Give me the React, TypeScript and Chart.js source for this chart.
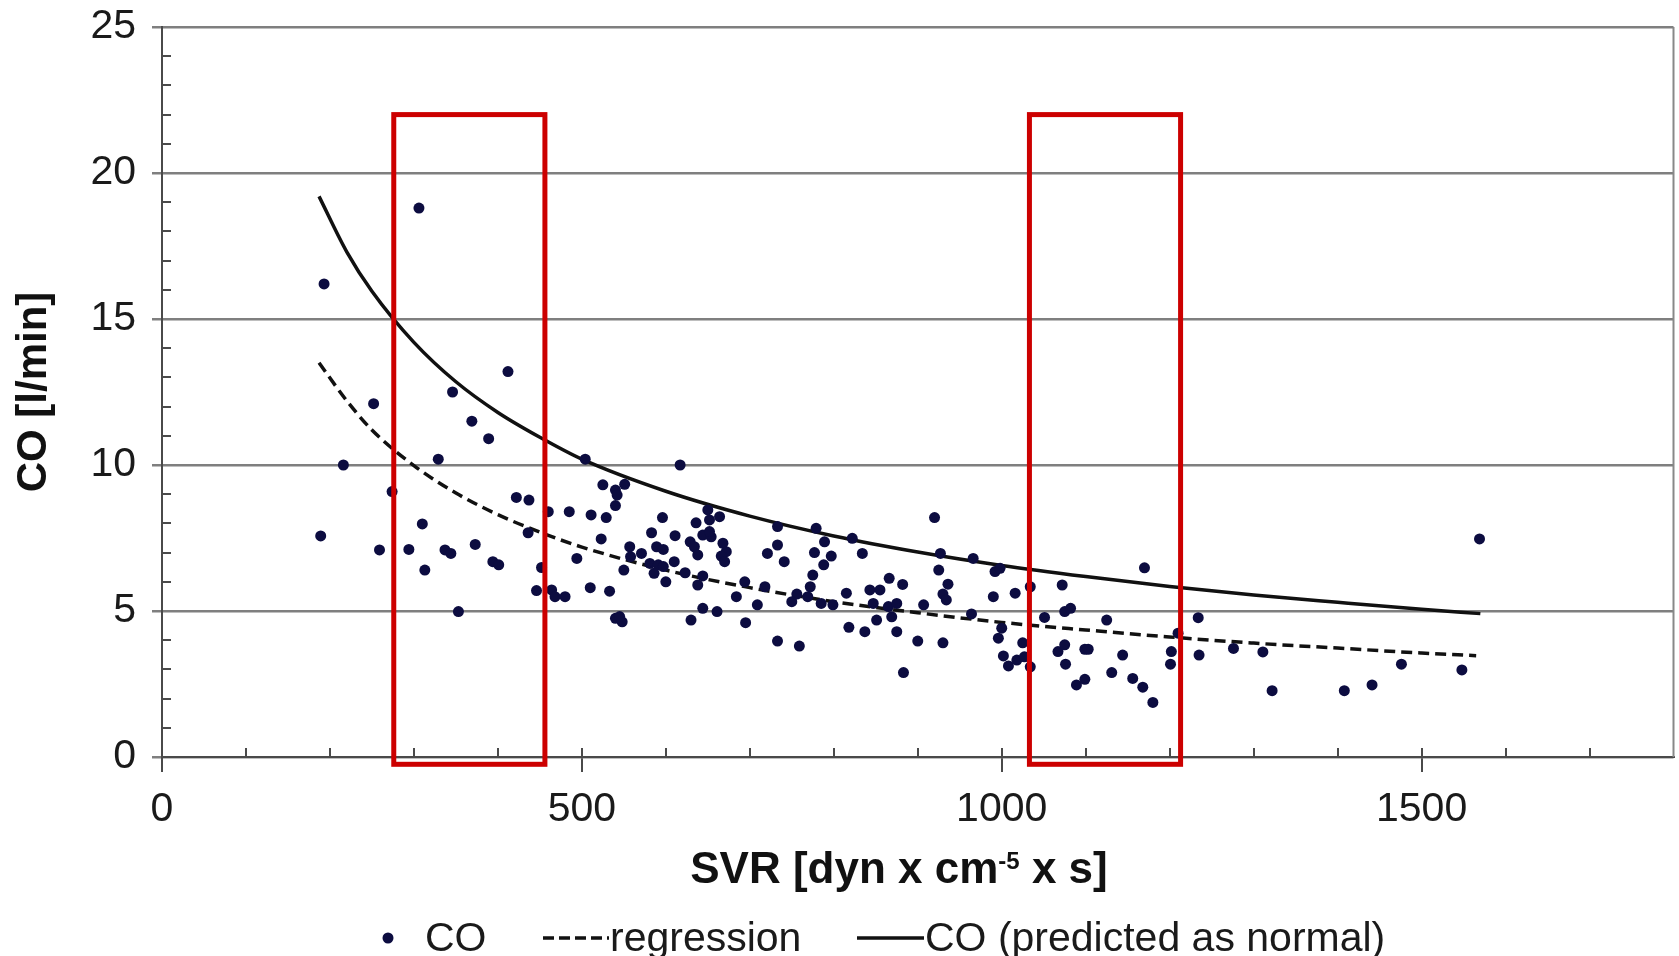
import React, { useEffect, useRef } from "react";
import { Chart, registerables } from "chart.js";

Chart.register(...registerables);

const FONT = "'Liberation Sans', Arial, Helvetica, sans-serif";

// Measured CO points: SVR (x) and CO (y)
const svrValues = [
  306, 193, 412, 346, 252, 369, 389, 329, 216, 274,
  422, 437, 310, 436, 189, 259, 294, 337, 344, 373,
  313, 394, 401, 446, 353, 452, 504, 617, 525, 540,
  542, 551, 540, 460, 485, 511, 529, 523, 596, 583,
  611, 636, 652, 664, 650, 644, 654, 652, 629, 634,
  638, 668, 672, 666, 670, 557, 558, 571, 589, 597,
  494, 581, 591, 586, 597, 610, 550, 623, 600, 644,
  638, 464, 468, 480, 510, 533, 540, 548, 545, 630,
  644, 661, 684, 694, 718, 709, 721, 695, 733, 733,
  733, 741, 779, 789, 777, 797, 788, 822, 834, 775,
  772, 756, 750, 769, 785, 799, 815, 843, 855, 847,
  866, 882, 865, 875, 869, 851, 818, 837, 875, 759,
  900, 930, 883, 907, 920, 927, 925, 936, 930, 934,
  966, 964, 992, 998, 990, 1016, 1000, 996, 1002, 1008,
  1034, 1072, 1170, 1075, 1082, 1051, 1125, 1025, 1018, 1027,
  1034, 1067, 1075, 1076, 1099, 1103, 1089, 1099, 1144, 1131,
  1156, 1168, 1180, 1210, 1202, 1201, 1234, 1235, 1276, 1311,
  1322, 1408, 1441, 1476, 1548, 1569,
];
const coValues = [
  18.8, 16.2, 13.2, 12.5, 12.1, 11.5, 10.9, 10.2, 10.0, 9.09,
  8.89, 8.8, 7.98, 7.68, 7.57, 7.09, 7.11, 7.09, 6.97, 7.28,
  6.4, 6.69, 6.58, 5.7, 4.98, 6.49, 10.2, 10.0, 9.32, 9.14,
  8.97, 9.34, 8.61, 8.4, 8.4, 8.29, 8.2, 7.47, 8.2, 7.68,
  7.58, 8.02, 8.12, 8.23, 8.46, 7.6, 7.54, 7.72, 7.37, 7.2,
  6.92, 7.32, 7.03, 6.88, 6.69, 7.2, 6.86, 6.97, 7.2, 7.11,
  6.8, 6.63, 6.58, 6.29, 6.52, 6.69, 6.4, 6.31, 6.0, 6.2,
  5.89, 5.72, 5.49, 5.49, 5.8, 5.68, 4.75, 4.63, 4.81, 4.69,
  5.09, 4.98, 5.49, 6.0, 5.83, 5.21, 6.97, 4.6, 3.97, 7.89,
  7.26, 6.69, 7.83, 7.37, 7.0, 6.88, 6.58, 7.49, 6.97, 6.23,
  5.83, 5.58, 5.32, 5.49, 5.26, 5.21, 5.61, 5.72, 5.72, 5.26,
  6.12, 5.91, 5.15, 5.26, 4.8, 4.69, 4.44, 4.29, 4.29, 3.8,
  3.97, 3.91, 2.89, 5.21, 8.2, 6.97, 6.4, 5.92, 5.58, 5.38,
  6.8, 4.9, 6.35, 6.46, 5.49, 5.61, 4.41, 4.07, 3.46, 3.12,
  5.83, 5.89, 6.48, 4.98, 5.09, 4.78, 4.69, 3.91, 3.32, 3.43,
  3.09, 3.61, 3.84, 3.18, 3.69, 3.69, 2.47, 2.66, 3.49, 2.89,
  2.69, 2.39, 1.87, 4.24, 3.61, 3.18, 4.77, 3.49, 3.72, 3.6,
  2.27, 2.27, 2.47, 3.18, 2.98, 7.47,
];

// Curve "CO (predicted as normal)"
const predictedSVR = [187, 220, 250, 300, 350, 400, 450, 500, 600, 700, 800, 900, 1000, 1100, 1200, 1300, 1400, 1500, 1570];
const predictedCO = [19.2, 17.3, 15.95, 14.2, 12.85, 11.8, 10.95, 10.2, 9.1, 8.25, 7.57, 7.02, 6.56, 6.18, 5.84, 5.55, 5.3, 5.06, 4.91];

// Regression curve
const regressionSVR = [187, 220, 250, 300, 350, 400, 450, 500, 600, 700, 800, 900, 1000, 1100, 1200, 1300, 1400, 1500, 1565];
const regressionCO = [13.5, 12.2, 11.2, 9.98, 9.04, 8.3, 7.7, 7.19, 6.4, 5.8, 5.32, 4.94, 4.61, 4.35, 4.11, 3.9, 3.73, 3.56, 3.47];

// Axis ticks
const xMajorTicks = [0, 500, 1000, 1500];
const xInnerTicks = [100, 200, 300, 400, 500, 600, 700, 800, 900, 1000, 1100, 1200, 1300, 1400, 1500, 1600, 1700];
const yMajorTicks = [0, 5, 10, 15, 20, 25];
const yInnerTicks = [1, 2, 3, 4, 6, 7, 8, 9, 11, 12, 13, 14, 16, 17, 18, 19, 21, 22, 23, 24];

// Highlight boxes (SVR ranges and CO range)
const boxSVRStart = [276, 1033];
const boxSVREnd = [456, 1213];
const boxCORange = [-0.25, 22];

const xTitleMain = "SVR [dyn x cm";
const xTitleSup = "-5";
const xTitleEnd = " x s]";

const decorPlugin = {
  id: "decor",
  beforeDatasetsDraw(chart: any) {
    const { ctx, scales, chartArea: a } = chart;
    const x = scales.x;
    const y = scales.y;
    ctx.save();
    ctx.strokeStyle = "#4a4a4a";
    ctx.lineWidth = 2;
    ctx.beginPath();
    xInnerTicks.forEach((v) => {
      const px = Math.round(x.getPixelForValue(v));
      ctx.moveTo(px, a.bottom);
      ctx.lineTo(px, a.bottom - 9);
    });
    yInnerTicks.forEach((v) => {
      const py = Math.round(y.getPixelForValue(v));
      ctx.moveTo(a.left, py);
      ctx.lineTo(a.left + 9, py);
    });
    ctx.stroke();
    ctx.strokeStyle = "#888888";
    ctx.beginPath();
    ctx.moveTo(a.right, a.top);
    ctx.lineTo(a.right, a.bottom);
    ctx.stroke();
    ctx.restore();
  },
  afterDatasetsDraw(chart: any) {
    const { ctx, scales } = chart;
    const x = scales.x;
    const y = scales.y;
    ctx.save();
    ctx.strokeStyle = "#cc0000";
    ctx.lineWidth = 5;
    boxSVRStart.forEach((s, i) => {
      const x0 = x.getPixelForValue(s);
      const x1 = x.getPixelForValue(boxSVREnd[i]);
      const y0 = y.getPixelForValue(boxCORange[1]);
      const y1 = y.getPixelForValue(boxCORange[0]);
      ctx.strokeRect(x0, y0, x1 - x0, y1 - y0);
    });
    ctx.restore();
  },
  afterDraw(chart: any) {
    const { ctx } = chart;
    ctx.save();
    // X axis title with superscript
    ctx.fillStyle = "#111";
    ctx.textBaseline = "alphabetic";
    ctx.textAlign = "left";
    const mainFont = `bold 44px ${FONT}`;
    const supFont = `bold 24px ${FONT}`;
    ctx.font = mainFont;
    const w1 = ctx.measureText(xTitleMain).width;
    const w3 = ctx.measureText(xTitleEnd).width;
    ctx.font = supFont;
    const w2 = ctx.measureText(xTitleSup).width;
    const total = w1 + w2 + w3;
    let sx = 899 - total / 2;
    const base = 883;
    ctx.font = mainFont;
    ctx.fillText(xTitleMain, sx, base);
    sx += w1;
    ctx.font = supFont;
    ctx.fillText(xTitleSup, sx, base - 14);
    sx += w2;
    ctx.font = mainFont;
    ctx.fillText(xTitleEnd, sx, base);

    // Legend
    const ds = chart.data.datasets;
    const ly = 938;
    const lb = 951;
    ctx.font = `41px ${FONT}`;
    // CO dot
    ctx.beginPath();
    ctx.fillStyle = "#0c0c40";
    ctx.arc(388, ly, 5.5, 0, Math.PI * 2);
    ctx.fill();
    ctx.fillStyle = "#1a1a1a";
    ctx.fillText(ds[0].label, 425, lb);
    // regression dashed
    ctx.strokeStyle = "#111";
    ctx.lineWidth = 3.5;
    ctx.setLineDash([11, 5]);
    ctx.beginPath();
    ctx.moveTo(543, ly);
    ctx.lineTo(609, ly);
    ctx.stroke();
    ctx.setLineDash([]);
    ctx.fillText(ds[1].label, 610, lb);
    // predicted solid
    ctx.beginPath();
    ctx.moveTo(857, ly);
    ctx.lineTo(924, ly);
    ctx.stroke();
    ctx.fillText(ds[2].label, 925, lb);
    ctx.restore();
  },
};

export default function App() {
  const canvasRef = useRef<HTMLCanvasElement | null>(null);

  useEffect(() => {
    document.body.style.margin = "0";
    document.body.style.overflow = "hidden";
    const canvas = canvasRef.current;
    if (!canvas) return;
    const chart = new Chart(canvas, {
      type: "scatter",
      data: {
        datasets: [
          {
            label: "CO",
            data: svrValues.map((v, i) => ({ x: v, y: coValues[i] })),
            pointRadius: 5.5,
            pointHoverRadius: 5.5,
            pointBackgroundColor: "#0c0c40",
            pointBorderWidth: 0,
            showLine: false,
            order: 0,
          },
          {
            label: "regression",
            type: "line",
            data: regressionSVR.map((v, i) => ({ x: v, y: regressionCO[i] })),
            borderColor: "#111",
            borderWidth: 3.5,
            borderDash: [11, 6],
            pointRadius: 0,
            fill: false,
            cubicInterpolationMode: "monotone",
            order: 1,
          },
          {
            label: "CO (predicted as normal)",
            type: "line",
            data: predictedSVR.map((v, i) => ({ x: v, y: predictedCO[i] })),
            borderColor: "#111",
            borderWidth: 3.5,
            pointRadius: 0,
            fill: false,
            cubicInterpolationMode: "monotone",
            order: 2,
          },
        ] as any,
      },
      options: {
        responsive: false,
        animation: false,
        devicePixelRatio: 1,
        layout: { padding: { top: 27, right: 3, bottom: 0, left: 0 } },
        plugins: {
          legend: { display: false },
          tooltip: { enabled: false },
          title: { display: false },
        },
        scales: {
          x: {
            type: "linear",
            min: 0,
            max: 1800,
            afterBuildTicks: (s: any) => {
              s.ticks = xMajorTicks.map((v) => ({ value: v }));
            },
            afterFit: (s: any) => {
              s.height = 199;
              s.paddingLeft = 0;
              s.paddingRight = 0;
            },
            ticks: {
              font: { family: FONT, size: 41 },
              color: "#1a1a1a",
              padding: 13,
              maxRotation: 0,
              autoSkip: false,
              callback: (v: any) => String(v),
            },
            grid: {
              drawOnChartArea: false,
              drawTicks: true,
              tickLength: 15,
              color: "#4a4a4a",
              lineWidth: 2,
            },
            border: { display: true, color: "#4a4a4a", width: 2 },
          },
          y: {
            min: 0,
            max: 25,
            afterBuildTicks: (s: any) => {
              s.ticks = yMajorTicks.map((v) => ({ value: v }));
            },
            afterFit: (s: any) => {
              s.width = 162;
              s.paddingTop = 0;
              s.paddingBottom = 0;
            },
            ticks: {
              font: { family: FONT, size: 41 },
              color: "#1a1a1a",
              padding: 16,
              callback: (v: any) => String(v),
            },
            grid: {
              color: "#7f7f7f",
              lineWidth: 2.5,
              tickLength: 10,
              drawTicks: true,
            },
            border: { display: true, color: "#4a4a4a", width: 2 },
            title: {
              display: true,
              text: "CO [l/min]",
              color: "#111",
              font: { family: FONT, size: 42, weight: "bold" },
              padding: { top: 9, bottom: 0 },
            },
          },
        },
      } as any,
      plugins: [decorPlugin],
    });
    return () => chart.destroy();
  }, []);

  return (
    <div style={{ position: "fixed", left: 0, top: 0, width: 1679, height: 956, background: "#fff" }}>
      <canvas ref={canvasRef} width={1679} height={956} style={{ display: "block" }} />
    </div>
  );
}
